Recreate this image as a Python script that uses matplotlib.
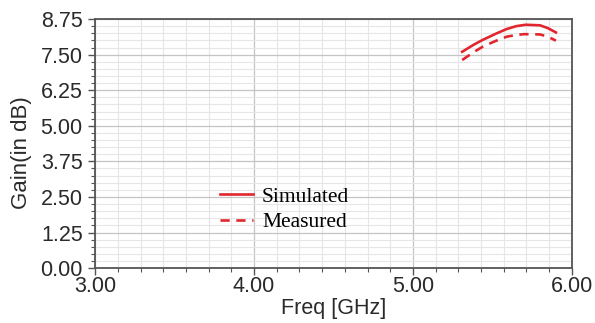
import numpy as np
import matplotlib.pyplot as plt
from matplotlib.ticker import MultipleLocator, FixedLocator

# values
freq_sim = [5.31, 5.38, 5.44, 5.52, 5.59, 5.65, 5.71, 5.80, 5.85, 5.90]
gain_sim = [7.60, 7.84, 8.02, 8.23, 8.40, 8.50, 8.55, 8.53, 8.43, 8.28]
freq_meas = [5.31, 5.38, 5.44, 5.52, 5.59, 5.65, 5.70, 5.80, 5.85, 5.90]
gain_meas = [7.31, 7.58, 7.78, 7.98, 8.13, 8.19, 8.22, 8.21, 8.13, 7.99]

xticks = [3.0, 4.0, 5.0, 6.0]
yticks = [0.0, 1.25, 2.5, 3.75, 5.0, 6.25, 7.5, 8.75]

fig = plt.figure(figsize=(5.95, 3.23), dpi=100)
ax = fig.add_axes([0.160, 0.170, 0.801, 0.771])

red = '#e3262e'
ax.plot(freq_sim, gain_sim, color=red, lw=1.9, label='Simulated')
ax.plot(freq_meas, gain_meas, color=red, lw=1.9, ls=(0, (3.5, 2.5)), label='Measured')

ax.set_xlim(3.0, 6.0)
ax.set_ylim(0.0, 8.75)
ax.set_xticks(xticks)
ax.set_yticks(yticks)
ax.set_xticklabels(['%.2f' % v for v in xticks])
ax.set_yticklabels(['%.2f' % v for v in yticks])
ax.xaxis.set_minor_locator(FixedLocator(np.arange(3.0, 6.0001, 1.0 / 7)))
ax.yaxis.set_minor_locator(MultipleLocator(0.25))

ax.grid(which='major', color='#c4c4c4', lw=0.9)
ax.grid(which='minor', color='#e6e6e6', lw=0.8)
ax.set_axisbelow(True)

for s in ax.spines.values():
    s.set_color('#555555')
    s.set_linewidth(1.3)

ax.tick_params(which='major', direction='out', length=5, width=1, color='#555555',
               labelsize=15.5)
ax.tick_params(axis='x', which='major', pad=1)
ax.tick_params(axis='y', which='major', pad=4)
ax.tick_params(which='minor', direction='out', length=3, width=0.8, color='#555555')
for lab in ax.get_xticklabels() + ax.get_yticklabels():
    lab.set_family('Liberation Sans')
    lab.set_color('#2a2a2a')

ax.set_xlabel('Freq [GHz]', fontsize=15.5, family='Liberation Sans', color='#2a2a2a')
ax.set_ylabel('Gain(in dB)', fontsize=16, family='Liberation Sans', color='#2a2a2a')
ax.xaxis.set_label_coords(0.5, -0.122)
ax.yaxis.set_label_coords(-0.132, 0.462)

ax.legend(loc='upper left', bbox_to_anchor=(0.262, 0.327), frameon=False,
          prop={'family': 'Liberation Serif', 'size': 15.5}, handlelength=1.55,
          handletextpad=0.4, labelspacing=0.25, borderaxespad=0, borderpad=0)

fig.savefig('out.png', dpi=100, facecolor='white')
